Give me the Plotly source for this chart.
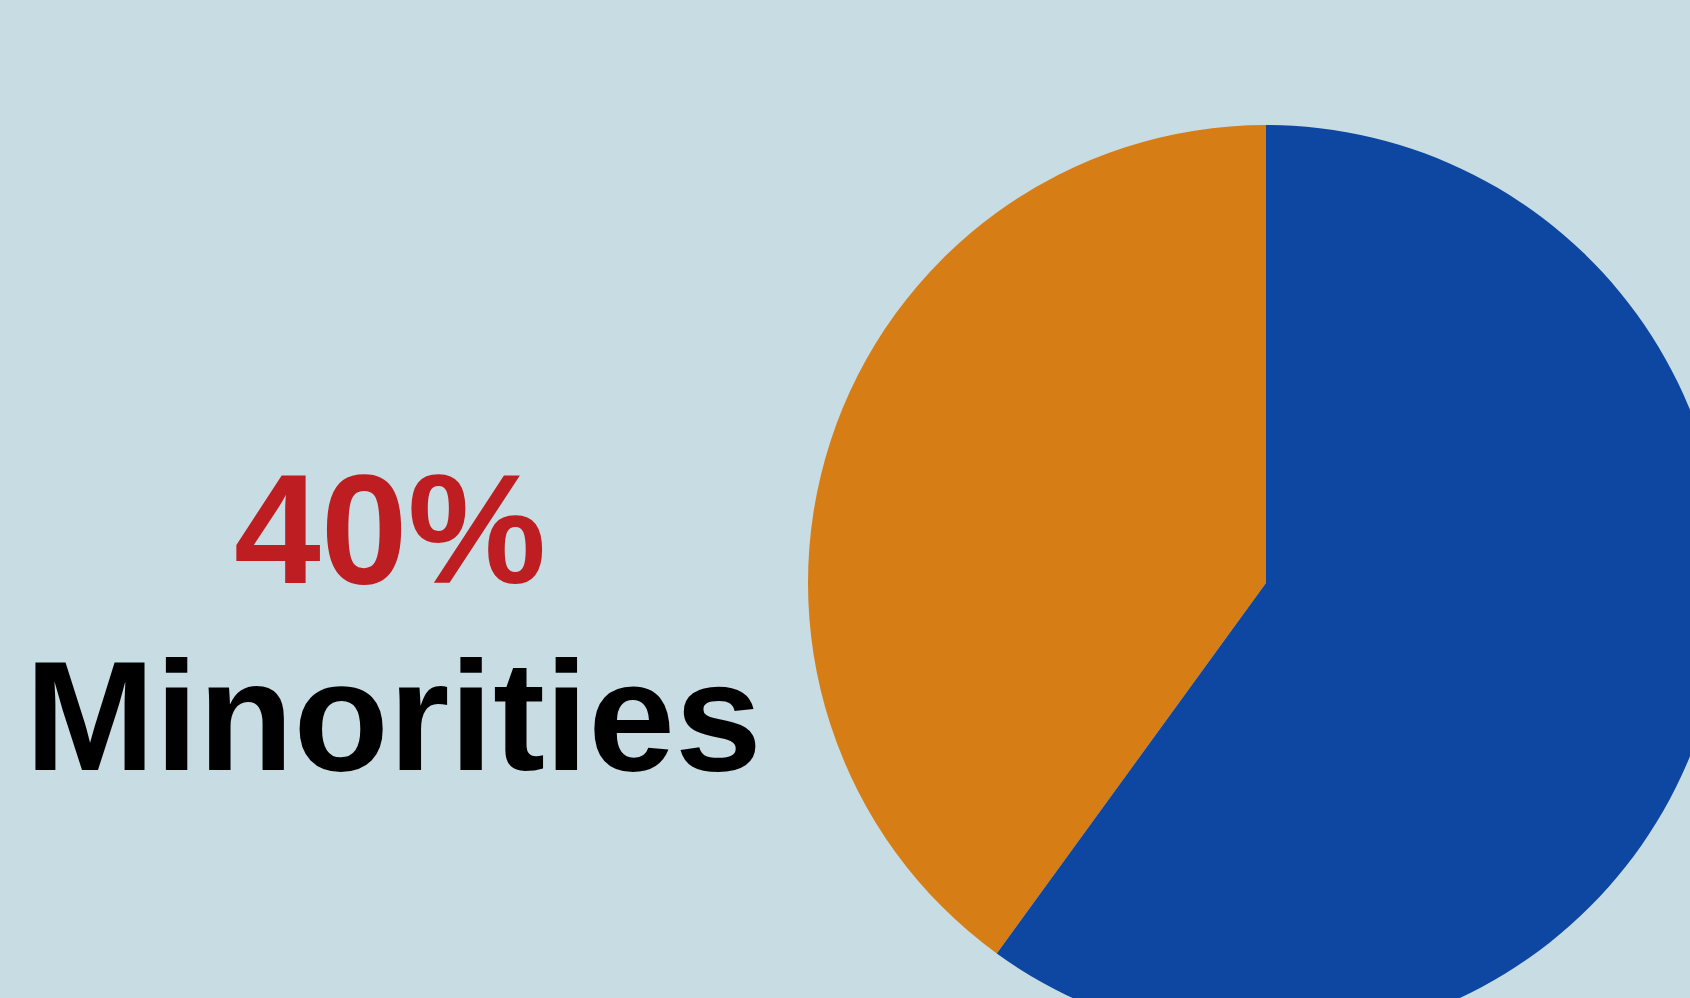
import plotly.graph_objects as go

labels = ["Minorities", "Others"]
values = [40, 60]
colors = ["#D77D16", "#0D47A1"]
headline_value = "40%"
headline_label = "Minorities"

W, H = 1800, 1100
cx, cy, r = 1266, 583, 458

# first slice ends at 12 o'clock, sweeping on the left side
start_angle = -360 * values[0] / sum(values)

fig = go.Figure(go.Pie(
    labels=labels, values=values, sort=False, direction="clockwise",
    rotation=start_angle, marker=dict(colors=colors, line=dict(width=0)),
    textinfo="none", hoverinfo="label+percent", showlegend=False,
    domain=dict(x=[(cx - r) / W, (cx + r) / W],
                y=[(H - cy - r) / H, (H - cy + r) / H]),
))

fig.add_annotation(text=headline_value, xref="paper", yref="paper",
                   x=390 / W, y=1 - 529 / H, xanchor="center", yanchor="middle",
                   showarrow=False,
                   font=dict(family="Liberation Sans, Arial", size=156, color="#BE1E21", weight="bold"))
fig.add_annotation(text=headline_label, xref="paper", yref="paper",
                   x=393 / W, y=1 - 716 / H, xanchor="center", yanchor="middle",
                   showarrow=False,
                   font=dict(family="Liberation Sans, Arial", size=156, color="#000000", weight="bold"))

fig.update_layout(width=W, height=H, margin=dict(l=0, r=0, t=0, b=0),
                  paper_bgcolor="#C8DCE3", plot_bgcolor="#C8DCE3")

fig.write_html("out.html", post_script="document.body.style.overflow='hidden';document.body.style.margin='0';")
